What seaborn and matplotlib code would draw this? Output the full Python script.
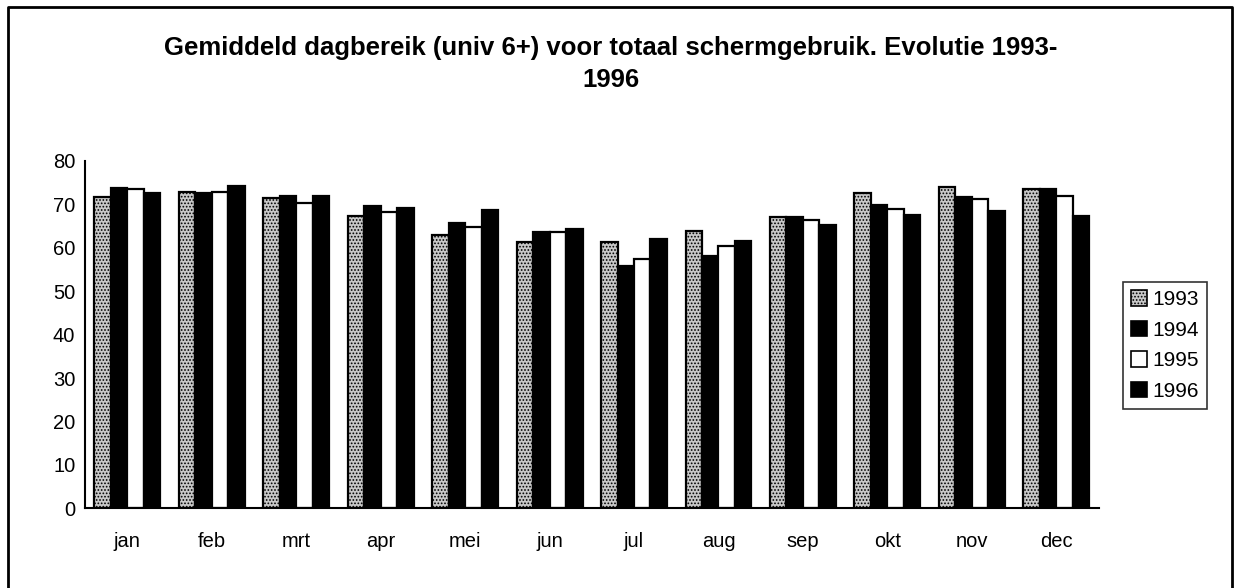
import numpy as np
import pandas as pd
import matplotlib
matplotlib.use("Agg")
import matplotlib.pyplot as plt
from matplotlib.lines import Line2D
import seaborn as sns


# ---------------- DATA ----------------
months = ["jan", "feb", "mrt", "apr", "mei", "jun",
          "jul", "aug", "sep", "okt", "nov", "dec"]
years = ["1993", "1994", "1995", "1996"]

v1993 = [71.7, 72.8, 71.5, 67.3, 63.0, 61.3, 61.2, 63.9, 67.1, 72.7, 74.0, 73.4]
v1994 = [73.8, 72.5, 72.0, 69.6, 65.8, 63.5, 55.9, 58.2, 67.0, 69.9, 71.7, 73.4]
v1995 = [73.6, 72.8, 70.4, 68.2, 64.8, 63.5, 57.4, 60.4, 66.4, 68.9, 71.1, 71.9]
v1996 = [72.5, 74.2, 71.9, 69.1, 68.6, 64.4, 62.0, 61.6, 65.2, 67.5, 68.4, 67.3]

title = "Gemiddeld dagbereik (univ 6+) voor totaal schermgebruik. Evolutie 1993-\n1996"

df = pd.DataFrame({
    "maand": months * 4,
    "jaar": sum([[y] * 12 for y in years], []),
    "waarde": v1993 + v1994 + v1995 + v1996,
})


# ---------------- STYLE ----------------
sns.set_style("white")
plt.rcParams["font.family"] = ["Liberation Sans", "DejaVu Sans"]
plt.rcParams["text.color"] = "black"
plt.rcParams["xtick.color"] = "black"
plt.rcParams["ytick.color"] = "black"
plt.rcParams["hatch.linewidth"] = 0.8
plt.rcParams["hatch.color"] = "#3a3a3a"

styles = {
    "1993": dict(face="#c8c8c8", hatch="....."),
    "1994": dict(face="black", hatch=None),
    "1995": dict(face="white", hatch=None),
    "1996": dict(face="black", hatch=None),
}


# ---------------- PLOT ----------------
fig = plt.figure(figsize=(12.36, 5.88), dpi=100)
ax = fig.add_axes([0.0688, 0.1355, 0.820, 0.591])

sns.barplot(data=df, x="maand", y="waarde", hue="jaar", order=months,
            hue_order=years, width=0.78, gap=0, ax=ax, legend=False,
            palette=["white"] * 4, saturation=1)

for cont, yr in zip(ax.containers, years):
    for p in cont.patches:
        p.set_facecolor(styles[yr]["face"])
        p.set_edgecolor("black")
        p.set_linewidth(1.6)
        if styles[yr]["hatch"]:
            p.set_hatch(styles[yr]["hatch"])

ax.set_ylim(0, 80)
ax.set_xlim(-0.5, 11.5)
ax.set_yticks(range(0, 81, 10))
ax.set_xticks(np.arange(-0.5, 12, 1), minor=True)
ax.set_xlabel("")
ax.set_ylabel("")

ax.tick_params(axis="x", which="major", length=0, pad=17, labelsize=14.5,
               labelcolor="black")
ax.tick_params(axis="x", which="minor", length=10, width=1.3,
               direction="inout", color="black")
ax.tick_params(axis="y", length=10, width=1.3, direction="inout",
               color="black", labelsize=14.5, pad=2, labelcolor="black")

for s in ["top", "right"]:
    ax.spines[s].set_visible(False)
for s in ["left", "bottom"]:
    ax.spines[s].set_color("black")
    ax.spines[s].set_linewidth(1.5)

# legend
handles = []
for yr in years:
    h = plt.Rectangle((0, 0), 1, 1, facecolor=styles[yr]["face"],
                      edgecolor="black", linewidth=1.2,
                      hatch=styles[yr]["hatch"])
    handles.append(h)
leg = fig.legend(handles, years, loc="upper left",
                 bbox_to_anchor=(1123 / 1236, 1 - 282 / 588),
                 frameon=True, fancybox=False, fontsize=15,
                 handlelength=0.75, handleheight=0.75, handletextpad=0.25,
                 labelspacing=0.55, borderpad=0.4, borderaxespad=0)
leg.get_frame().set_edgecolor("black")
leg.get_frame().set_linewidth(1.2)

fig.text(0.494, 1 - 36 / 588, title, ha="center", va="top",
         fontsize=18.5, fontweight="bold", linespacing=1.4)

# outer frame (bottom edge runs off the page)
fx = [8 / 1236, 8 / 1236, 1232 / 1236, 1232 / 1236]
fy = [0, 1 - 7 / 588, 1 - 7 / 588, 0]
fig.add_artist(Line2D(fx, fy, color="black", linewidth=2,
                      transform=fig.transFigure))

fig.savefig("out.png", dpi=100)
